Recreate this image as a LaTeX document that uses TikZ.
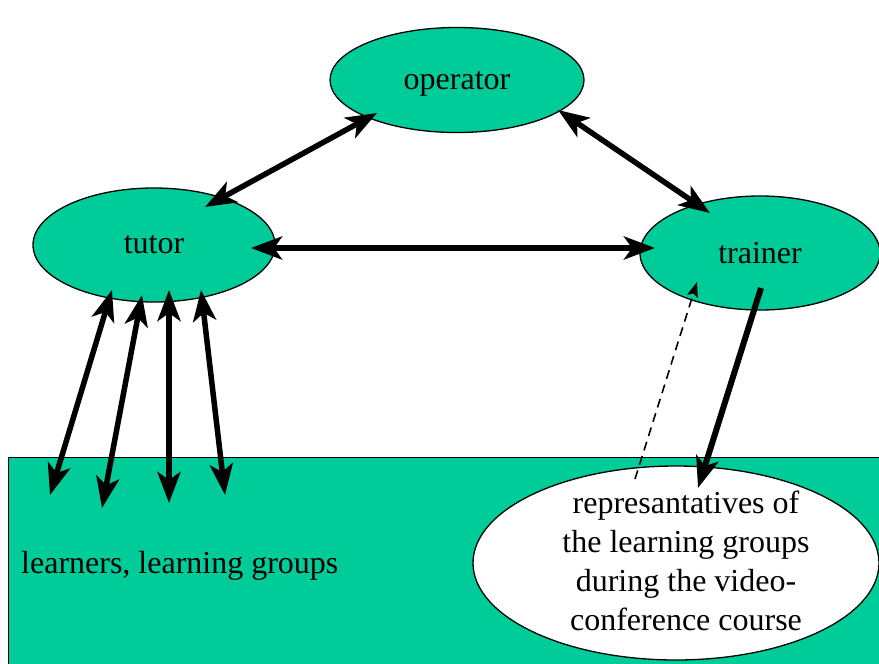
\documentclass[tikz,border=0pt]{standalone}
\usepackage{fontspec}
\setmainfont{Liberation Serif}
\usetikzlibrary{shapes.geometric,arrows.meta}
\definecolor{roleGreen}{RGB}{0,204,153}
\tikzset{
  role/.style={ellipse, draw=black, line width=1.3pt, fill=roleGreen, inner sep=0pt,
    font=\fontsize{32}{36}\selectfont},
  head/.tip={Stealth[length=31pt,width=23pt,inset=8pt]},
  link/.style={line width=5.5pt, head-head},
  oneway/.style={line width=6pt, -head},
  feedback/.style={line width=1.6pt, dash pattern=on 9pt off 6pt, -{Stealth[length=15pt,width=11pt,inset=3pt]}},
  txt/.style={font=\fontsize{32}{39}\selectfont, align=center, inner sep=0pt}
}
\begin{document}
\begin{tikzpicture}[x=1pt,y=-1pt]
\useasboundingbox (0,0) rectangle (879,664);
\clip (0,0) rectangle (879,664);
\fill[white] (0,0) rectangle (879,664);

% learner area
\node[draw=black, line width=1.3pt, fill=roleGreen, anchor=north west,
      minimum width=880pt, minimum height=220pt, inner sep=0pt] (learners) at (8,457) {};
\node[txt, anchor=west] (learnerslabel) at (21,566) {learners, learning groups};

% representatives
\node[ellipse, draw=black, line width=1.3pt, fill=white, minimum width=406pt,
      minimum height=194pt, inner sep=0pt] (reps) at (676,563) {};
\node[txt] (repslabel) at (686,561) {represantatives of\\the learning groups\\during the video-\\conference course};

% roles
\node[role, text depth=0pt, minimum width=254pt, minimum height=105pt] (operator) at (457,80) {operator};
\node[role, minimum width=242pt, minimum height=114pt] (tutor) at (154,245) {tutor};
\node[role, minimum width=240pt, minimum height=114pt] (trainer) at (760,253) {trainer};

% connector end points
\coordinate (tOp) at (205,207);
\coordinate (opT) at (377,113);
\coordinate (opR) at (558,110);
\coordinate (rOp) at (710,213);
\coordinate (tR) at (251,248);
\coordinate (rT) at (655,248);
\coordinate (t1) at (112,290);
\coordinate (l1) at (50,495);
\coordinate (t2) at (142,295);
\coordinate (l2) at (102,508);
\coordinate (t3) at (169,290);
\coordinate (l3) at (169,503);
\coordinate (t4) at (201,290);
\coordinate (l4) at (225,495);
\coordinate (rOut) at (761,288);
\coordinate (repIn) at (698,488);
\coordinate (repOut) at (635,479);
\coordinate (rIn) at (697,282);

\draw[link] (tOp) -- (opT);
\draw[link] (opR) -- (rOp);
\draw[link] (tR) -- (rT);
\draw[link] (t1) -- (l1);
\draw[link] (t2) -- (l2);
\draw[link] (t3) -- (l3);
\draw[link] (t4) -- (l4);
\draw[oneway] (rOut) -- (repIn);
\draw[feedback] (repOut) -- (rIn);
\end{tikzpicture}
\end{document}
